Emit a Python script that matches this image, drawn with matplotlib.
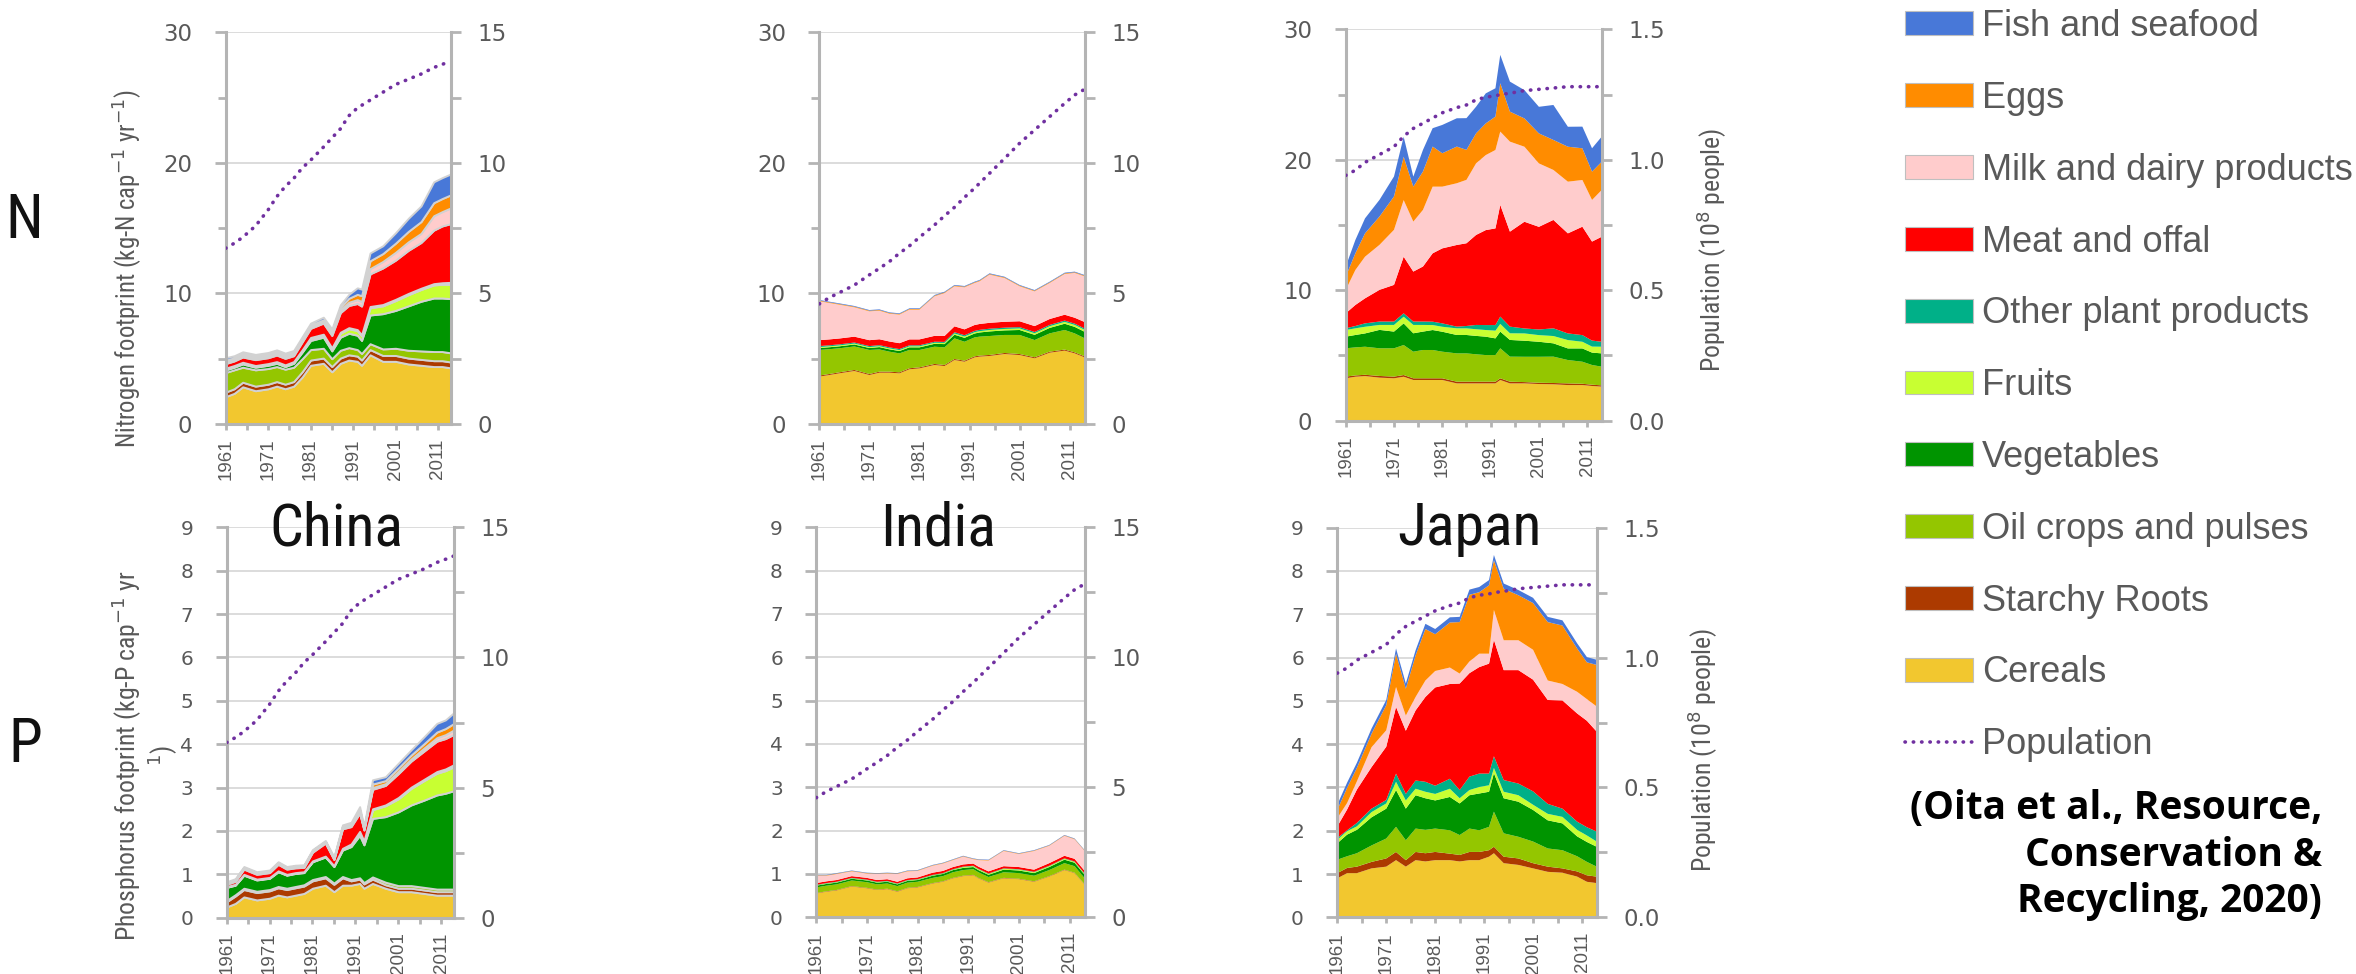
import matplotlib
matplotlib.use('Agg')
import matplotlib.pyplot as plt
from matplotlib.patches import Patch
from matplotlib.lines import Line2D
from matplotlib.ticker import MultipleLocator, FormatStrFormatter

W, H = 2356, 974

YEARS = [1961, 1963, 1965, 1968, 1971, 1973, 1975, 1977, 1979, 1981, 1984, 1986,
         1988, 1990, 1992, 1993, 1995, 1998, 2001, 2004, 2007, 2010, 2012, 2014]

# stacking order, bottom to top
CATEGORIES = ['Cereals', 'Starchy Roots', 'Oil crops and pulses', 'Vegetables', 'Fruits',
              'Other plant products', 'Meat and offal', 'Milk and dairy products', 'Eggs',
              'Fish and seafood']
COLORS = ['#f2c72f', '#ac3a00', '#94c600', '#009400', '#c8ff32',
          '#00b088', '#ff0000', '#ffcccc', '#ff8c00', '#4878d8']
POP_COLOR = '#7030a0'

# nitrogen footprint, kg-N per capita per year (rows follow CATEGORIES)
china_n = [
    [2.1, 2.35, 2.85, 2.55, 2.7, 2.9, 2.7, 2.9, 3.6, 4.5, 4.65, 4.0, 4.65, 4.9, 4.8, 4.5, 5.3, 4.8, 4.8, 4.6, 4.5, 4.4, 4.4, 4.3],
    [0.35, 0.35, 0.35, 0.35, 0.35, 0.35, 0.35, 0.35, 0.4, 0.4, 0.4, 0.4, 0.4, 0.4, 0.4, 0.4, 0.4, 0.45, 0.45, 0.45, 0.45, 0.45, 0.45, 0.45],
    [1.5, 1.45, 1.15, 1.25, 1.2, 1.15, 1.15, 1.1, 1.0, 0.8, 0.75, 0.6, 0.6, 0.55, 0.5, 0.5, 0.45, 0.5, 0.55, 0.6, 0.65, 0.7, 0.7, 0.7],
    [0.2, 0.2, 0.25, 0.2, 0.25, 0.25, 0.2, 0.3, 0.5, 0.7, 0.85, 0.6, 1.0, 1.1, 1.1, 1.0, 2.2, 2.7, 2.9, 3.4, 3.8, 4.1, 4.1, 4.15],
    [0.05, 0.05, 0.05, 0.05, 0.05, 0.05, 0.05, 0.05, 0.1, 0.15, 0.15, 0.15, 0.3, 0.35, 0.35, 0.35, 0.55, 0.6, 0.75, 0.85, 0.9, 1.0, 1.05, 1.1],
    [0.08, 0.08, 0.08, 0.08, 0.08, 0.08, 0.08, 0.08, 0.08, 0.08, 0.08, 0.08, 0.08, 0.08, 0.08, 0.08, 0.1, 0.1, 0.1, 0.1, 0.1, 0.1, 0.12, 0.15],
    [0.35, 0.35, 0.4, 0.45, 0.45, 0.5, 0.5, 0.45, 0.6, 0.7, 0.85, 0.95, 1.5, 1.7, 2.0, 2.2, 2.5, 2.8, 3.0, 3.3, 3.5, 4.1, 4.35, 4.5],
    [0.15, 0.15, 0.15, 0.15, 0.15, 0.15, 0.15, 0.15, 0.15, 0.15, 0.15, 0.15, 0.2, 0.25, 0.3, 0.35, 0.4, 0.5, 0.6, 0.65, 0.7, 1.1, 1.1, 1.2],
    [0.1, 0.1, 0.1, 0.1, 0.1, 0.1, 0.1, 0.1, 0.1, 0.1, 0.1, 0.15, 0.2, 0.3, 0.4, 0.45, 0.6, 0.6, 0.7, 0.8, 0.9, 1.0, 1.0, 1.0],
    [0.2, 0.15, 0.15, 0.15, 0.15, 0.15, 0.15, 0.15, 0.15, 0.15, 0.2, 0.2, 0.2, 0.3, 0.5, 0.5, 0.6, 0.6, 0.8, 1.0, 1.2, 1.6, 1.6, 1.6],
]
india_n = [
    [3.63, 3.75, 3.88, 4.06, 3.75, 3.93, 3.93, 3.88, 4.19, 4.26, 4.52, 4.44, 4.9, 4.77, 5.1, 5.16, 5.21, 5.36, 5.28, 5.03, 5.46, 5.62, 5.41, 5.1],
    [0.08] * 24,
    [1.96, 1.9, 1.84, 1.8, 1.84, 1.7, 1.53, 1.45, 1.4, 1.33, 1.32, 1.35, 1.58, 1.45, 1.45, 1.45, 1.45, 1.38, 1.46, 1.32, 1.4, 1.5, 1.45, 1.38],
    [0.15, 0.15, 0.15, 0.15, 0.15, 0.18, 0.18, 0.18, 0.2, 0.2, 0.22, 0.25, 0.28, 0.3, 0.3, 0.32, 0.35, 0.35, 0.38, 0.4, 0.42, 0.48, 0.5, 0.5],
    [0.07, 0.07, 0.07, 0.07, 0.07, 0.07, 0.07, 0.07, 0.08, 0.08, 0.08, 0.09, 0.09, 0.1, 0.1, 0.1, 0.11, 0.11, 0.12, 0.12, 0.13, 0.14, 0.15, 0.15],
    [0.08] * 12 + [0.1] * 12,
    [0.45] * 23 + [0.5],
    [2.98, 2.79, 2.59, 2.25, 2.21, 2.19, 2.13, 2.19, 2.28, 2.28, 3.03, 3.29, 3.07, 3.22, 3.22, 3.27, 3.69, 3.35, 2.68, 2.66, 2.76, 3.12, 3.43, 3.5],
    [0.05] * 24,
    [0.05] * 24,
]
japan_n = [
    [3.25, 3.37, 3.42, 3.3, 3.25, 3.37, 3.12, 3.12, 3.12, 3.12, 2.86, 2.86, 2.86, 2.86, 2.86, 3.12, 2.86, 2.86, 2.81, 2.79, 2.73, 2.73, 2.66, 2.61],
    [0.13, 0.1, 0.1, 0.13, 0.13, 0.13, 0.13, 0.13, 0.13, 0.13, 0.13, 0.13, 0.13, 0.13, 0.13, 0.13, 0.13, 0.1, 0.1, 0.1, 0.13, 0.1, 0.1, 0.1],
    [2.17, 2.15, 2.15, 2.12, 2.17, 2.3, 2.04, 2.17, 2.17, 2.04, 2.17, 2.17, 2.1, 2.04, 2.04, 2.3, 1.92, 1.94, 1.99, 2.02, 1.79, 1.69, 1.51, 1.43],
    [0.89, 0.95, 1.02, 1.41, 1.28, 1.66, 1.41, 1.41, 1.53, 1.53, 1.41, 1.41, 1.41, 1.41, 1.28, 1.28, 1.28, 1.23, 1.15, 1.02, 0.89, 1.02, 0.95, 1.02],
    [0.51, 0.51, 0.51, 0.38, 0.51, 0.51, 0.64, 0.51, 0.38, 0.38, 0.51, 0.51, 0.51, 0.51, 0.59, 0.59, 0.51, 0.56, 0.51, 0.56, 0.64, 0.51, 0.46, 0.51],
    [0.13, 0.18, 0.26, 0.26, 0.26, 0.26, 0.26, 0.26, 0.26, 0.26, 0.13, 0.18, 0.33, 0.38, 0.43, 0.56, 0.51, 0.38, 0.43, 0.59, 0.51, 0.51, 0.46, 0.38],
    [1.15, 1.61, 1.92, 2.43, 2.81, 4.34, 3.83, 4.22, 5.24, 5.75, 6.26, 6.34, 6.9, 7.28, 7.41, 8.56, 7.28, 8.18, 7.87, 8.31, 7.67, 8.31, 7.59, 8.05],
    [1.79, 2.68, 3.19, 3.45, 4.22, 4.34, 3.83, 4.34, 5.11, 4.73, 4.73, 4.86, 5.49, 5.75, 6.01, 5.62, 6.9, 5.75, 4.86, 3.83, 3.96, 3.58, 3.19, 3.58],
    [1.02, 1.28, 1.79, 2.17, 2.56, 3.32, 2.68, 2.94, 3.07, 2.56, 2.81, 2.3, 2.3, 2.43, 2.56, 3.71, 2.3, 2.17, 2.3, 2.3, 2.68, 2.43, 2.17, 2.17],
    [0.77, 1.02, 1.15, 1.28, 1.53, 1.53, 0.77, 1.66, 1.41, 2.17, 2.17, 2.43, 2.04, 2.3, 2.17, 2.17, 2.3, 2.17, 2.04, 2.68, 1.53, 1.66, 1.79, 1.92],
]

# phosphorus footprint, kg-P per capita per year
china_p = [
    [0.25, 0.33, 0.48, 0.41, 0.45, 0.52, 0.48, 0.52, 0.56, 0.68, 0.75, 0.6, 0.75, 0.75, 0.79, 0.68, 0.79, 0.68, 0.6, 0.6, 0.56, 0.52, 0.52, 0.52],
    [0.12] + [0.17] * 12 + [0.1] * 4 + [0.08] * 7,
    [0.03] * 16 + [0.05] + [0.06] * 7,
    [0.3, 0.22, 0.3, 0.26, 0.26, 0.34, 0.3, 0.3, 0.28, 0.41, 0.45, 0.38, 0.61, 0.76, 0.98, 0.87, 1.35, 1.51, 1.7, 1.86, 2.01, 2.17, 2.21, 2.27],
    [0.01] * 12 + [0.03, 0.05, 0.08, 0.08, 0.2, 0.25, 0.3, 0.38, 0.45, 0.5, 0.52, 0.55],
    [0.01] * 16 + [0.02, 0.02, 0.03, 0.03, 0.03, 0.04, 0.04, 0.05],
    [0.05, 0.07, 0.12, 0.11, 0.11, 0.15, 0.12, 0.11, 0.1, 0.2, 0.3, 0.14, 0.45, 0.4, 0.42, 0.25, 0.45, 0.45, 0.55, 0.6, 0.65, 0.7, 0.7, 0.7],
    [0.02] * 12 + [0.03, 0.03, 0.03, 0.02, 0.04, 0.04, 0.05, 0.05, 0.07, 0.08, 0.09, 0.1],
    [0.02] * 12 + [0.03, 0.03, 0.05, 0.03, 0.08, 0.07, 0.08, 0.09, 0.1, 0.13, 0.14, 0.15],
    [0.02] * 12 + [0.03, 0.04, 0.07, 0.03, 0.1, 0.09, 0.11, 0.12, 0.16, 0.2, 0.2, 0.25],
]
india_p = [
    [0.55, 0.59, 0.62, 0.71, 0.67, 0.63, 0.65, 0.59, 0.67, 0.69, 0.78, 0.82, 0.9, 0.95, 0.97, 0.9, 0.8, 0.9, 0.88, 0.82, 0.94, 1.09, 1.02, 0.75],
    [0.01] * 24,
    [0.13, 0.13, 0.13, 0.13, 0.13, 0.12, 0.12, 0.12, 0.12, 0.12, 0.12, 0.12, 0.13, 0.13, 0.13, 0.13, 0.12, 0.13, 0.13, 0.13, 0.14, 0.15, 0.15, 0.14],
    [0.04] * 10 + [0.05] * 7 + [0.06, 0.06, 0.06, 0.07, 0.08, 0.08, 0.08],
    [0.01] * 13 + [0.02] * 11,
    [0.01] * 24,
    [0.04] * 10 + [0.05] * 10 + [0.06] * 4,
    [0.17, 0.13, 0.14, 0.11, 0.1, 0.14, 0.13, 0.18, 0.16, 0.15, 0.16, 0.17, 0.16, 0.18, 0.1, 0.15, 0.25, 0.35, 0.3, 0.43, 0.4, 0.46, 0.45, 0.46],
    [0.01] * 24,
    [0.01] * 24,
]
japan_p = [
    [0.9, 1.02, 1.02, 1.13, 1.17, 1.32, 1.17, 1.32, 1.29, 1.32, 1.32, 1.29, 1.32, 1.32, 1.4, 1.48, 1.25, 1.21, 1.13, 1.05, 1.03, 0.94, 0.82, 0.79],
    [0.12, 0.12, 0.15, 0.15, 0.19, 0.19, 0.15, 0.19, 0.19, 0.19, 0.15, 0.15, 0.19, 0.19, 0.15, 0.15, 0.15, 0.15, 0.12, 0.12, 0.1, 0.12, 0.15, 0.15],
    [0.31, 0.27, 0.31, 0.38, 0.46, 0.58, 0.46, 0.54, 0.54, 0.54, 0.54, 0.46, 0.54, 0.5, 0.54, 0.81, 0.54, 0.5, 0.5, 0.42, 0.42, 0.35, 0.31, 0.23],
    [0.38, 0.5, 0.54, 0.65, 0.69, 0.85, 0.73, 0.77, 0.73, 0.65, 0.77, 0.73, 0.77, 0.85, 0.81, 0.89, 0.81, 0.81, 0.73, 0.65, 0.62, 0.46, 0.46, 0.46],
    [0.08, 0.08, 0.08, 0.12, 0.12, 0.19, 0.19, 0.15, 0.15, 0.15, 0.19, 0.12, 0.12, 0.15, 0.15, 0.12, 0.15, 0.15, 0.12, 0.15, 0.15, 0.15, 0.15, 0.12],
    [0.04, 0.02, 0.08, 0.08, 0.08, 0.19, 0.15, 0.19, 0.23, 0.19, 0.23, 0.19, 0.31, 0.31, 0.27, 0.27, 0.27, 0.27, 0.31, 0.23, 0.19, 0.19, 0.19, 0.23],
    [0.27, 0.48, 0.77, 0.96, 1.23, 1.54, 1.46, 1.62, 1.96, 2.27, 2.19, 2.46, 2.39, 2.46, 2.54, 2.69, 2.54, 2.62, 2.58, 2.4, 2.5, 2.5, 2.46, 2.31],
    [0.19, 0.15, 0.19, 0.46, 0.38, 0.46, 0.35, 0.31, 0.38, 0.38, 0.38, 0.23, 0.27, 0.31, 0.23, 0.69, 0.69, 0.69, 0.69, 0.45, 0.38, 0.5, 0.5, 0.58],
    [0.19, 0.35, 0.31, 0.31, 0.58, 0.77, 0.62, 0.96, 1.19, 0.85, 1.04, 1.19, 1.54, 1.42, 1.58, 1.15, 1.19, 1.04, 1.08, 1.35, 1.35, 1.0, 0.85, 0.96],
    [0.12] * 24,
]

# population, 10^8 people
china_pop = [6.73, 6.92, 7.15, 7.58, 8.2, 8.7, 9.09, 9.4, 9.8, 10.1, 10.6, 10.95,
             11.3, 11.8, 12.1, 12.2, 12.4, 12.7, 13.0, 13.2, 13.4, 13.65, 13.77, 13.9]
india_pop = [4.6, 4.84, 5.03, 5.32, 5.71, 5.96, 6.22, 6.54, 6.82, 7.15, 7.62, 7.97,
             8.3, 8.68, 9.03, 9.22, 9.6, 10.17, 10.75, 11.26, 11.77, 12.28, 12.6, 12.82]
japan_pop = [0.94, 0.96, 0.99, 1.02, 1.05, 1.09, 1.12, 1.14, 1.16, 1.18, 1.2, 1.21,
             1.23, 1.24, 1.245, 1.25, 1.255, 1.265, 1.27, 1.275, 1.28, 1.28, 1.28, 1.28]

COUNTRIES = ['China', 'India', 'Japan']

ARIAL = ['Liberation Sans', 'DejaVu Sans']
NARROW = ['Roboto Condensed', 'Liberation Sans', 'DejaVu Sans']
TXT = '#595959'
AXC = '#b4b4b4'
GRID = '#d9d9d9'
POP_STYLE = dict(color=POP_COLOR, lw=2.6, linestyle=(0, (0.1, 2.2)), dash_capstyle='round')

plt.rcParams['font.family'] = 'DejaVu Sans'

fig = plt.figure(figsize=(W / 100, H / 100), dpi=100)


def px_box(l, t, r, b):
    return [l / W, 1 - b / H, (r - l) / W, (b - t) / H]


def panel(box, layers, pop, ymax, ystep, yminor, lsize, pmax, pstep, pminor, pfmt, edge):
    ax = fig.add_axes(px_box(*box))
    if edge:
        ax.stackplot(YEARS, *layers, colors=COLORS, edgecolor='#d2d2d2', linewidth=1.4)
    else:
        ax.stackplot(YEARS, *layers, colors=COLORS, linewidth=0)
    ax.set_xlim(1961, 2014)
    ax.set_ylim(0, ymax)
    ax.yaxis.set_major_locator(MultipleLocator(ystep))
    ax.yaxis.set_minor_locator(MultipleLocator(yminor))
    ax.set_xticks(range(1961, 2012, 10), [str(y) for y in range(1961, 2012, 10)],
                  rotation=90, fontfamily=ARIAL, fontsize=13.5, color=TXT)
    ax.set_xticks(range(1966, 2014, 10), minor=True)
    ax.grid(axis='y', which='major', color=GRID, lw=1.3)
    ax.set_axisbelow(True)
    for s in ['top', 'right']:
        ax.spines[s].set_visible(False)
    for s in ['left', 'bottom']:
        ax.spines[s].set_color(AXC)
        ax.spines[s].set_linewidth(2.2)
    ax.tick_params(axis='y', which='both', direction='out', color=AXC, width=2,
                   labelcolor=TXT, labelsize=lsize, pad=16)
    ax.tick_params(axis='y', which='major', length=8)
    ax.tick_params(axis='y', which='minor', length=6)
    ax.tick_params(axis='x', which='both', direction='out', color=AXC, width=2,
                   length=4.5, pad=6)

    ax2 = ax.twinx()
    ax2.plot(YEARS, pop, **POP_STYLE)
    ax2.set_ylim(0, pmax)
    ax2.yaxis.set_major_locator(MultipleLocator(pstep))
    ax2.yaxis.set_minor_locator(MultipleLocator(pminor))
    ax2.yaxis.set_major_formatter(FormatStrFormatter(pfmt))
    for s in ['top', 'left', 'bottom']:
        ax2.spines[s].set_visible(False)
    ax2.spines['right'].set_color(AXC)
    ax2.spines['right'].set_linewidth(2.2)
    ax2.tick_params(axis='y', which='both', direction='out', color=AXC, width=2,
                    labelcolor=TXT, labelsize=16.5, pad=12)
    ax2.tick_params(axis='y', which='major', length=7)
    ax2.tick_params(axis='y', which='minor', length=7)
    return ax, ax2


# top row: nitrogen
panel((225.7, 32.3, 450.7, 424), china_n, china_pop, 30, 10, 5, 16.5, 15, 5, 2.5, '%d', True)
panel((819.3, 32.3, 1084.7, 424), india_n, india_pop, 30, 10, 5, 16.5, 15, 5, 2.5, '%d', False)
panel((1345.7, 29.3, 1601.7, 420.7), japan_n, japan_pop, 30, 10, 5, 16.5, 1.5, 0.5, 0.25, '%.1f', False)

# bottom row: phosphorus
panel((226.7, 527.3, 454, 917.7), china_p, china_pop, 9, 1, 1, 14.5, 15, 5, 2.5, '%d', True)
panel((816.3, 527.3, 1084.7, 917.3), india_p, india_pop, 9, 1, 1, 14.5, 15, 5, 2.5, '%d', False)
panel((1337.3, 527.7, 1596.7, 917.3), japan_p, japan_pop, 9, 1, 1, 14.5, 1.5, 0.5, 0.25, '%.1f', False)


def fx(x):
    return x / W


def fy(y):
    return 1 - y / H


# row letters and country names
fig.text(fx(24), fy(238), 'N', fontfamily=NARROW, fontsize=44, color='#111111',
         ha='center', va='baseline')
fig.text(fx(25), fy(762), 'P', fontfamily=NARROW, fontsize=44, color='#111111',
         ha='center', va='baseline')
for name, cx in zip(COUNTRIES, [336.7, 938.3, 1469]):
    fig.text(fx(cx), fy(545), name, fontfamily=NARROW, fontsize=43, color='#111111',
             ha='center', va='baseline')

# axis titles
fig.text(fx(128), fy(269), 'Nitrogen footprint (kg-N cap$^{-1}$ yr$^{-1}$)', rotation=90,
         fontfamily=NARROW, fontsize=17.8, color=TXT, ha='center', va='center')
fig.text(fx(145), fy(756), 'Phosphorus footprint (kg-P cap$^{-1}$ yr\n$^{1}$)', rotation=90,
         fontfamily=NARROW, fontsize=18.5, color=TXT, ha='center', va='center',
         multialignment='center', linespacing=1.05)
fig.text(fx(1712), fy(250), 'Population (10$^{8}$ people)', rotation=90,
         fontfamily=NARROW, fontsize=18.5, color=TXT, ha='center', va='center')
fig.text(fx(1703), fy(750), 'Population (10$^{8}$ people)', rotation=90,
         fontfamily=NARROW, fontsize=18.5, color=TXT, ha='center', va='center')

# legend, top category first
handles = [Patch(facecolor=c, edgecolor='#bfbfbf', lw=0.8) for c in COLORS[::-1]]
handles.append(Line2D([], [], **POP_STYLE))
labels = CATEGORIES[::-1] + ['Population']
fig.legend(handles, labels, loc='upper left', bbox_to_anchor=(fx(1905), fy(9)),
           frameon=False, prop={'family': ARIAL, 'size': 26},
           labelcolor=TXT, handlelength=1.88, handleheight=0.64, handletextpad=0.25,
           labelspacing=1.02, borderpad=0, borderaxespad=0)

fig.text(fx(2322), fy(855), '(Oita et al., Resource,\nConservation &\nRecycling, 2020)',
         fontfamily=['Open Sans', 'DejaVu Sans'], fontweight='bold', fontsize=28,
         color='black', ha='right', va='center', multialignment='right', linespacing=1.25)

fig.savefig('out.png', dpi=100, facecolor='white')
